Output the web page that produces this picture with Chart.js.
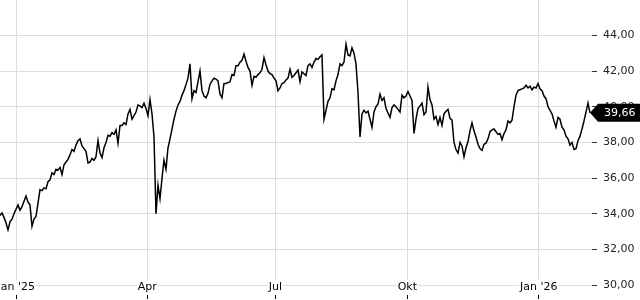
<!DOCTYPE html>
<html>
<head>
<meta charset="utf-8">
<script src="https://cdn.jsdelivr.net/npm/chart.js@4.4.1/dist/chart.umd.min.js"></script>
<style>
  html, body { margin: 0; padding: 0; background: #fff; }
  #kurs { display: block; }
</style>
</head>
<body>
<canvas id="kurs" width="640" height="300"></canvas>
<script>
// one value per trading session, mid Dec 2024 .. early Feb 2026
const closes = [
  33.9, 34.05, 33.8, 33.5, 33.1, 33.55, 33.7, 34.0, 34.25, 34.5,
  34.2, 34.4, 34.7, 35.0, 34.65, 34.5, 33.3, 33.7, 33.85, 34.6,
  35.35, 35.3, 35.45, 35.4, 35.8, 35.9, 36.3, 36.2, 36.5, 36.45,
  36.6, 36.2, 36.75, 36.9, 37.05, 37.3, 37.6, 37.5, 37.85, 38.1,
  38.2, 37.8, 37.65, 37.5, 36.85, 36.9, 37.1, 37.0, 37.2, 38.1,
  37.4, 37.15, 37.7, 38.0, 38.4, 38.35, 38.55, 38.45, 38.7, 37.95,
  38.95, 38.95, 39.1, 39.0, 39.6, 39.85, 39.3, 39.5, 39.7, 40.1,
  40.05, 39.95, 40.2, 39.9, 39.5, 40.4, 39.6, 38.3, 34.0, 35.6,
  34.85, 36.0, 37.0, 36.5, 37.7, 38.2, 38.75, 39.3, 39.75, 40.1,
  40.3, 40.65, 40.9, 41.25, 41.6, 42.4, 40.45, 40.9, 40.8, 41.4,
  42.0, 40.9, 40.6, 40.5, 40.75, 41.25, 41.45, 41.6, 41.55, 41.45,
  40.7, 40.5, 41.3, 41.3, 41.35, 41.4, 41.8, 41.75, 42.3, 42.3,
  42.5, 42.6, 42.95, 42.55, 42.2, 42.0, 41.2, 41.7, 41.65, 41.8,
  41.9, 42.1, 42.75, 42.35, 42.0, 41.85, 41.8, 41.6, 41.45, 40.9,
  41.05, 41.3, 41.35, 41.5, 41.6, 42.1, 41.65, 41.75, 41.9, 42.05,
  41.4, 41.95, 41.85, 41.75, 42.3, 42.4, 42.2, 42.5, 42.7, 42.65,
  42.8, 42.9, 39.3, 39.8, 40.3, 40.5, 41.0, 40.95, 41.45, 41.8,
  42.4, 42.3, 42.5, 43.5, 42.9, 42.85, 43.3, 43.0, 42.4, 40.8,
  38.3, 39.6, 39.8, 39.65, 39.75, 39.3, 38.85, 39.7, 40.0, 40.15,
  40.7, 40.35, 40.5, 39.9, 39.65, 39.4, 39.95, 40.1, 40.0, 39.85,
  39.7, 40.65, 40.5, 40.6, 40.85, 40.6, 40.35, 38.5, 39.3, 39.9,
  40.05, 40.2, 39.55, 39.7, 41.1, 40.4, 40.1, 39.3, 39.45, 39.0,
  39.4, 38.95, 39.6, 39.75, 39.85, 39.35, 39.25, 38.0, 37.6, 37.4,
  38.0, 37.8, 37.2, 37.7, 38.05, 38.65, 39.1, 38.65, 38.3, 37.9,
  37.65, 37.55, 37.9, 37.95, 38.2, 38.6, 38.7, 38.75, 38.6, 38.45,
  38.5, 38.15, 38.5, 38.7, 39.2, 39.1, 39.25, 40.0, 40.65, 40.9,
  40.95, 41.0, 41.05, 41.2, 41.05, 41.15, 40.95, 41.1, 41.05, 41.3,
  41.0, 40.9, 40.6, 40.45, 40.0, 39.8, 39.6, 39.2, 38.85, 39.4,
  39.3, 38.85, 38.7, 38.35, 38.2, 37.85, 38.0, 37.6, 37.65, 38.1,
  38.35, 38.75, 39.2, 39.7, 40.2, 39.66
];

// session positions of the quarter starts
const monthTicks = [8.15, 73.65, 137.65, 203.65, 269.35];
const monthLabels = ["Jan '25", "Apr", "Jul", "Okt", "Jan '26"];
const yTicks = [30, 32, 34, 36, 38, 40, 42, 44];

const fmt = v => v.toFixed(2).replace('.', ',');
const tickFont = { family: 'DejaVu Sans', size: 11 };

// black price tag on the right
const lastTag = {
  id: 'lastTag',
  afterDraw(chart) {
    const ctx = chart.ctx;
    const last = closes[closes.length - 1];
    const y = chart.scales.y.getPixelForValue(last);
    const x0 = chart.chartArea.right - 2;
    ctx.save();
    ctx.fillStyle = '#000';
    ctx.beginPath();
    ctx.moveTo(x0, y);
    ctx.lineTo(x0 + 8, y - 9);
    ctx.lineTo(640, y - 9);
    ctx.lineTo(640, y + 9);
    ctx.lineTo(x0 + 8, y + 9);
    ctx.closePath();
    ctx.fill();
    ctx.fillStyle = '#fff';
    ctx.font = '11px "DejaVu Sans"';
    ctx.textBaseline = 'middle';
    ctx.fillText(fmt(last), x0 + 14, y + 0.5);
    ctx.restore();
  }
};

new Chart(document.getElementById('kurs'), {
  type: 'line',
  data: {
    datasets: [{
      data: closes.map((v, i) => ({ x: i, y: v })),
      borderColor: '#000',
      borderWidth: 1.5,
      pointRadius: 0,
      tension: 0
    }]
  },
  options: {
    responsive: false,
    animation: false,
    parsing: false,
    layout: { padding: 0 },
    plugins: { legend: { display: false }, tooltip: { enabled: false } },
    scales: {
      x: {
        type: 'linear',
        min: 0,
        max: 296,
        afterBuildTicks: s => { s.ticks = monthTicks.map(v => ({ value: v })); },
        afterFit: s => { s.height = 5; s.paddingLeft = 0; s.paddingRight = 0; },
        border: { display: false },
        grid: { color: '#dcdcdc', tickLength: 4, tickColor: '#000' },
        ticks: {
          callback: (v, i) => monthLabels[i],
          autoSkip: false,
          maxRotation: 0,
          mirror: true,
          padding: 1,
          color: '#000',
          font: tickFont,
          showLabelBackdrop: true,
          backdropColor: '#fff',
          backdropPadding: 1
        }
      },
      y: {
        position: 'right',
        min: 29.45,
        max: 45.98,
        afterBuildTicks: s => { s.ticks = yTicks.map(v => ({ value: v })); },
        afterFit: s => { s.width = 48; s.paddingTop = 0; s.paddingBottom = 0; },
        border: { display: false },
        grid: { color: '#dcdcdc', tickLength: 5, tickColor: '#333' },
        ticks: {
          callback: v => fmt(v),
          padding: 6,
          color: '#222',
          font: tickFont
        }
      }
    }
  },
  plugins: [lastTag]
});
</script>
</body>
</html>
